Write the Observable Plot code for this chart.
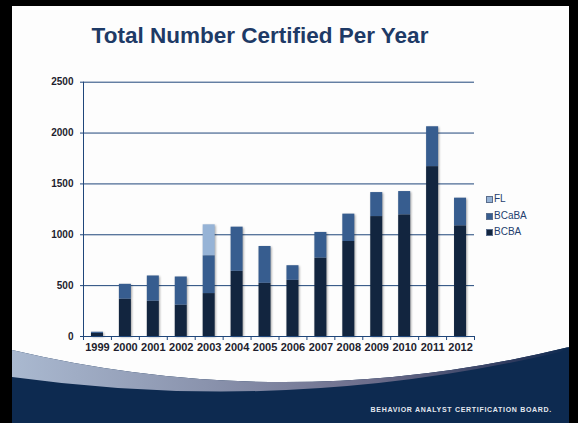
<!DOCTYPE html>
<html>
<head>
<meta charset="utf-8">
<script src="https://cdn.jsdelivr.net/npm/d3@7"></script>
<script src="https://cdn.jsdelivr.net/npm/@observablehq/plot@0.6"></script>
<style>
  html, body { margin: 0; padding: 0; background: #000000; }
  #wrap { position: relative; width: 578px; height: 423px; overflow: hidden; font-family: "Liberation Sans", Arial, sans-serif; background: #000000; }
  #deco { position: absolute; left: 0; top: 0; display: block; }
  #title { position: absolute; left: 40px; top: 24.5px; width: 440px; text-align: center; font-size: 22.5px; line-height: 22px; font-weight: bold; color: #1e3a66; }
  #chart { position: absolute; left: 0; top: 70px; }
  #legend { position: absolute; left: 486px; top: 193px; font-size: 10px; color: #24406e; }
  #legend .row { position: relative; height: 16.6px; line-height: 12px; padding-left: 8px; }
  #legend .sw { position: absolute; left: 0; top: 3px; width: 5px; height: 5px; border: 1px solid #5a6d8c; }
</style>
</head>
<body>
<div id="wrap">
  <svg id="deco" width="578" height="423" viewBox="0 0 578 423">
    <defs>
      <linearGradient id="sw" x1="0" x2="1" y1="0" y2="0">
        <stop offset="0" stop-color="#aab9d0"/>
        <stop offset="0.35" stop-color="#8a93ad"/>
        <stop offset="0.65" stop-color="#6c6d8b"/>
        <stop offset="0.9" stop-color="#2e3a5e"/>
        <stop offset="1" stop-color="#0d2a50"/>
      </linearGradient>
    </defs>
    <rect x="0" y="0" width="578" height="423" fill="#000000"/>
    <rect x="12" y="6" width="557" height="417" fill="#fdfdfd"/>
    <path d="M12,350 Q290,415.5 569,347 L569,423 L12,423 Z" fill="#0d2a50"/>
    <path d="M12,350 Q290,415.5 569,347 L560,352 Q290,415.5 12,377 Z" fill="url(#sw)"/>
    <text x="552" y="412" text-anchor="end" fill="#e4e8ef" font-size="7" font-weight="bold" letter-spacing="0.7" font-family="'Liberation Sans', Arial, sans-serif">BEHAVIOR ANALYST CERTIFICATION BOARD.</text>
  </svg>
  <div id="title">Total Number Certified Per Year</div>
  <div id="chart"></div>
  <div id="legend"></div>
</div>
<script>
const years = ["1999","2000","2001","2002","2003","2004","2005","2006","2007","2008","2009","2010","2011","2012"];
const bcba  = [30, 367, 347, 308, 422, 641, 523, 552, 771, 934, 1179, 1196, 1670, 1088];
const bcaba = [12, 146, 248, 277, 372, 434, 362, 144, 252, 269, 236, 229, 392, 272];
const fl    = [0, 0, 0, 0, 304, 0, 0, 0, 0, 0, 0, 0, 0, 0];
const seriesNames = ["BCBA", "BCaBA", "FL"];
const seriesColors = ["#12253f", "#375d8f", "#96b3d6"];
const yTicks = [0, 500, 1000, 1500, 2000, 2500];

const data = [];
years.forEach((y, i) => {
  data.push({year: y, series: "BCBA", value: bcba[i]});
  data.push({year: y, series: "BCaBA", value: bcaba[i]});
  data.push({year: y, series: "FL", value: fl[i]});
});

const navy = "#1f467a";
const half = (474 - 83) / years.length / 2;

const chart = Plot.plot({
  width: 480,
  height: 290,
  marginLeft: 83,
  marginRight: 6,
  marginTop: 11.7,
  marginBottom: 24,
  style: {fontFamily: "'Liberation Sans', Arial, sans-serif", background: "transparent", color: "#1e1e2e"},
  x: {domain: years, paddingInner: 0.57, paddingOuter: 0.285, align: 0.5, round: false, axis: null, label: null},
  y: {domain: [0, 2500], axis: null, label: null},
  color: {domain: seriesNames, range: seriesColors},
  marks: [
    Plot.gridY(yTicks.filter(d => d > 0), {stroke: navy, strokeOpacity: 1, strokeWidth: 1}),
    Plot.barY(data, {x: "year", y: "value", fill: "series", order: null}),
    Plot.ruleY([0], {stroke: navy, strokeWidth: 1}),
    Plot.ruleX([years[0]], {x: d => d, y1: 0, y2: 2500, dx: -half, stroke: navy, strokeWidth: 1}),
    Plot.axisY(yTicks, {tickSize: 3, tickPadding: 7, fontSize: 10, fontWeight: "bold", stroke: navy, fill: "#1e1e2e", label: null, tickFormat: d => String(d)}),
    Plot.axisX(years, {tickSize: 0, tickPadding: 7, fontSize: 11, fontWeight: "bold", fill: "#1e1e2e", label: null}),
    Plot.axisX(years, {tickSize: 4, tickFormat: () => "", dx: -half, stroke: navy, label: null}),
    Plot.axisX([years[years.length - 1]], {tickSize: 4, tickFormat: () => "", dx: half, stroke: navy, label: null})
  ]
});
chart.querySelectorAll('g[aria-label="bar"]').forEach(g => {
  g.style.filter = "drop-shadow(1px 1px 1px rgba(0,0,0,0.35))";
});
document.getElementById("chart").appendChild(chart);

const legend = document.getElementById("legend");
[2, 1, 0].forEach(i => {
  const row = document.createElement("div");
  row.className = "row";
  const sw = document.createElement("span");
  sw.className = "sw";
  sw.style.background = seriesColors[i];
  row.appendChild(sw);
  row.appendChild(document.createTextNode(seriesNames[i]));
  legend.appendChild(row);
});
</script>
</body>
</html>
